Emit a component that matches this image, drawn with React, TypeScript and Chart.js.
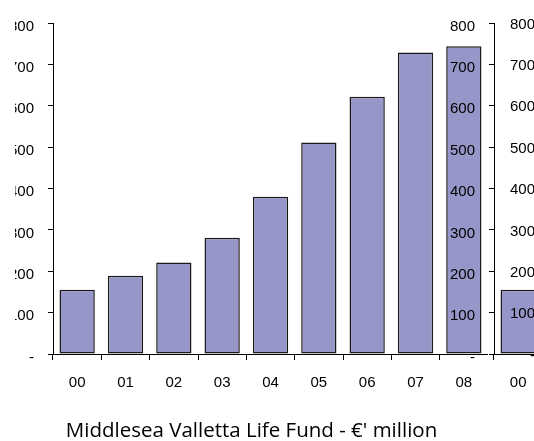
import React, { useEffect, useRef } from 'react';
import { Chart, registerables } from 'chart.js';

Chart.register(...registerables);

const years: string[] = ['00', '01', '02', '03', '04', '05', '06', '07', '08'];
const fundValues: number[] = [155, 189, 221, 281, 380, 511, 622, 729, 744];
const yMin = 0;
const yMax = 800;
const yStep = 100;
const titleText = "Middlesea Valletta Life Fund - €' million";

const BAR_FILL = 'rgb(150,150,200)';
const INK = '#000';
const TICK_FONT = { family: '"Liberation Sans", Arial, sans-serif', size: 15 };

const yLabel = (v: number | string) => (Number(v) === 0 ? '-' : String(v));

type Variant = 'main' | 'copy' | 'labels';

function buildConfig(variant: Variant): any {
  const showTitle = variant === 'main';
  const labelsOnly = variant === 'labels';
  let padding: any;
  if (variant === 'main') padding = { top: 23, left: 15, right: 0, bottom: 0 };
  else if (variant === 'copy') padding = { top: 23, left: 0, right: 0, bottom: 35 };
  else padding = { top: 23, left: 0, right: 0, bottom: 87 };
  return {
    type: 'bar',
    data: {
      labels: years,
      datasets: [
        {
          data: fundValues,
          backgroundColor: BAR_FILL,
          borderColor: '#1a1a1a',
          borderWidth: 1.5,
          borderSkipped: false,
          barPercentage: 0.73,
          categoryPercentage: 1,
        },
      ],
    },
    options: {
      responsive: false,
      animation: false,
      devicePixelRatio: 1,
      events: [],
      layout: { padding },
      plugins: {
        legend: { display: false },
        tooltip: { enabled: false },
        title: {
          display: showTitle,
          text: titleText,
          position: 'bottom',
          color: INK,
          font: { family: '"Open Sans", "Noto Sans", sans-serif', size: 20.5, weight: 'normal', lineHeight: '20px' },
          padding: { top: 15, bottom: 0 },
        },
      },
      scales: {
        x: {
          display: !labelsOnly,
          offset: true,
          grid: {
            offset: true,
            drawOnChartArea: false,
            drawTicks: true,
            tickLength: 6,
            color: INK,
            lineWidth: 1,
          },
          border: { display: true, color: INK, width: 1 },
          ticks: { color: INK, font: TICK_FONT, padding: 14, maxRotation: 0, autoSkip: false },
        },
        y: {
          min: yMin,
          max: yMax,
          afterFit: (s: any) => {
            s.width = labelsOnly ? 59 : variant === 'main' ? 38 : 53;
          },
          grid: {
            display: !labelsOnly,
            drawOnChartArea: false,
            drawTicks: !labelsOnly,
            tickLength: labelsOnly ? 0 : 5,
            color: INK,
            lineWidth: 1,
          },
          border: { display: !labelsOnly, color: INK, width: 1 },
          ticks: {
            stepSize: yStep,
            color: INK,
            font: TICK_FONT,
            padding: labelsOnly ? 0 : 14,
            labelOffset: labelsOnly ? 1.5 : 3.5,
            callback: (v: number | string) => yLabel(v),
          },
        },
      },
    },
  };
}

function ChartCanvas({ variant, left, width }: { variant: Variant; left: number; width: number }) {
  const ref = useRef<HTMLCanvasElement | null>(null);
  useEffect(() => {
    if (!ref.current) return;
    const chart = new Chart(ref.current, buildConfig(variant));
    return () => chart.destroy();
  }, [variant]);
  return (
    <canvas
      ref={ref}
      width={width}
      height={441}
      style={{ position: 'absolute', left, top: 0, width, height: 441, display: 'block' }}
    />
  );
}

export default function App() {
  return (
    <div
      style={{
        position: 'fixed',
        left: 0,
        top: 0,
        width: 534,
        height: 441,
        overflow: 'hidden',
        background: '#fff',
      }}
    >
      <ChartCanvas variant="main" left={0} width={488} />
      <ChartCanvas variant="copy" left={441} width={488} />
      <ChartCanvas variant="labels" left={476} width={80} />
    </div>
  );
}
